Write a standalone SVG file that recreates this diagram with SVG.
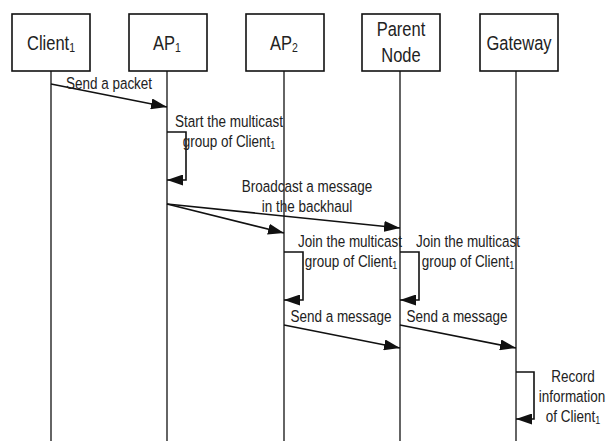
<svg xmlns="http://www.w3.org/2000/svg" width="606" height="441" viewBox="0 0 606 441">
<style>
.box{fill:#fff;stroke:#111;stroke-width:1.6}
.life{stroke:#111;stroke-width:1.3;fill:none}
.msg{stroke:#111;stroke-width:1.6;fill:none;marker-end:url(#ah)}
.t{font-family:"Liberation Sans",Arial,sans-serif;font-size:13.5px;fill:#222;text-anchor:middle}
.bt{font-family:"Liberation Sans",Arial,sans-serif;font-size:16.5px;fill:#222;text-anchor:middle}
.sub{font-size:9px}
.bsub{font-size:10.5px}
</style>
<defs>
<marker id="ah" markerUnits="userSpaceOnUse" markerWidth="16" markerHeight="11" refX="16" refY="5.5" orient="auto">
<path d="M0,0 L16,5.5 L0,11 z" fill="#111"/>
</marker>
</defs>
<g id="lifelines">
<line class="life" x1="51" y1="71" x2="51" y2="441"/>
<line class="life" x1="167" y1="71" x2="167" y2="441"/>
<line class="life" x1="284" y1="71" x2="284" y2="441"/>
<line class="life" x1="400" y1="71" x2="400" y2="441"/>
<line class="life" x1="516" y1="71" x2="516" y2="441"/>
</g>
<g id="client1">
<rect class="box" x="12" y="14" width="78" height="57"/>
<text class="bt" transform="translate(51 50) scale(1 1.24)">Client<tspan class="bsub" dy="2">1</tspan></text>
</g>
<g id="ap1">
<rect class="box" x="129" y="14" width="78" height="57"/>
<text class="bt" transform="translate(167 50) scale(1 1.24)">AP<tspan class="bsub" dy="2">1</tspan></text>
</g>
<g id="ap2">
<rect class="box" x="246" y="14" width="78" height="57"/>
<text class="bt" transform="translate(284 50) scale(1 1.24)">AP<tspan class="bsub" dy="2">2</tspan></text>
</g>
<g id="parent">
<rect class="box" x="362" y="14" width="78" height="57"/>
<text class="bt" transform="translate(401 36) scale(1 1.24)">Parent</text>
<text class="bt" transform="translate(401 62) scale(1 1.24)">Node</text>
</g>
<g id="gateway">
<rect class="box" x="480" y="14" width="78" height="57"/>
<text class="bt" transform="translate(519 50) scale(1 1.24)">Gateway</text>
</g>
<g id="connectors">
<line class="msg" x1="51" y1="84" x2="167" y2="107"/>
<polyline class="msg" points="167,132 186,132 186,180 167,180"/>
<line class="msg" x1="167" y1="204" x2="400" y2="228"/>
<line class="msg" x1="167" y1="204" x2="284" y2="233"/>
<polyline class="msg" points="284,252 303,252 303,300 284,300"/>
<polyline class="msg" points="400,252 419,252 419,300 400,300"/>
<line class="msg" x1="284" y1="325" x2="400" y2="348"/>
<line class="msg" x1="400" y1="325" x2="516" y2="348"/>
<polyline class="msg" points="516,372 534,372 534,419 516,419"/>
</g>
<g id="labels">
<text class="t" transform="translate(109 89) scale(1 1.24)">Send a packet</text>
<text class="t" transform="translate(229 127) scale(1 1.24)">Start the multicast</text>
<text class="t" transform="translate(229 147) scale(1 1.24)">group of Client<tspan class="sub" dy="2">1</tspan></text>
<text class="t" transform="translate(307 192) scale(1 1.24)">Broadcast a message</text>
<text class="t" transform="translate(307 212) scale(1 1.24)">in the backhaul</text>
<text class="t" transform="translate(350 247) scale(1 1.24)">Join the multicast</text>
<text class="t" transform="translate(351 267) scale(1 1.24)">group of Client<tspan class="sub" dy="2">1</tspan></text>
<text class="t" transform="translate(468 247) scale(1 1.24)">Join the multicast</text>
<text class="t" transform="translate(468 267) scale(1 1.24)">group of Client<tspan class="sub" dy="2">1</tspan></text>
<text class="t" transform="translate(341 322) scale(1 1.24)">Send a message</text>
<text class="t" transform="translate(457 322) scale(1 1.24)">Send a message</text>
<text class="t" transform="translate(573 382) scale(1 1.24)">Record</text>
<text class="t" transform="translate(572 402) scale(1 1.24)">information</text>
<text class="t" transform="translate(573 422) scale(1 1.24)">of Client<tspan class="sub" dy="2">1</tspan></text>
</g>
</svg>
